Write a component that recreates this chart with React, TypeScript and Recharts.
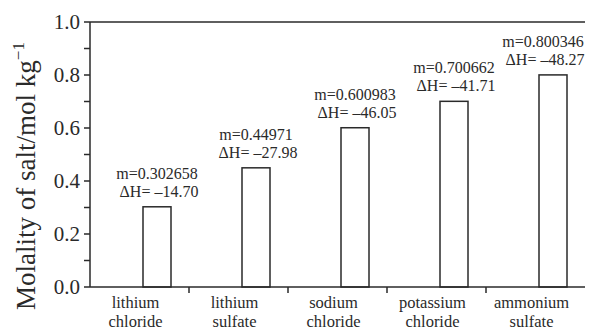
import { Bar, BarChart, ReferenceLine, XAxis, YAxis } from "recharts";

const saltFirst = ["lithium", "lithium", "sodium", "potassium", "ammonium"];
const saltSecond = ["chloride", "sulfate", "chloride", "chloride", "sulfate"];
const molality = [0.302658, 0.44971, 0.600983, 0.700662, 0.800346];
const deltaH = [-14.7, -27.98, -46.05, -41.71, -48.27];
const yTicks = [0, 0.1, 0.2, 0.3, 0.4, 0.5, 0.6, 0.7, 0.8, 0.9, 1.0];

const W = 589;
const H = 333;
const LEFT = 90;
const RIGHT = 4;
const BAND = (W - LEFT - RIGHT) / saltFirst.length;
const BAR_SHIFT = 17;
const INK = "#2a2a2a";
const FONT = "Liberation Serif";

const data = saltFirst.map((s, i) => ({
  name: `${s} ${saltSecond[i]}`,
  m: molality[i],
  dh: deltaH[i],
}));

function XTick({ x, y, payload }: any) {
  const i = payload.index;
  return (
    <g>
      {i < saltFirst.length - 1 && (
        <line
          x1={x + BAND / 2}
          x2={x + BAND / 2}
          y1={y - 8}
          y2={y - 2}
          stroke={INK}
          strokeWidth={1.5}
        />
      )}
      <text y={y + 13} textAnchor="middle" fontSize={16.5} fill={INK} style={{ fontFamily: FONT }}>
        <tspan x={x - 4}>{saltFirst[i]}</tspan>
        <tspan x={x - 4} dy={19}>
          {saltSecond[i]}
        </tspan>
      </text>
    </g>
  );
}

function YTick({ x, y, payload }: any) {
  const v = Math.round(payload.value * 10);
  if (v % 2 !== 0) return null;
  return (
    <text x={x - 2} y={y + 7} textAnchor="end" fontSize={21} fill={INK} style={{ fontFamily: FONT }}>
      {payload.value.toFixed(1)}
    </text>
  );
}

function SaltBar(props: any) {
  const { x, y, width, height, payload } = props;
  const bx = x + BAR_SHIFT;
  // keep the two annotation lines inside the frame
  const cx = Math.min(bx + width / 2, W - RIGHT - 42);
  return (
    <g>
      <rect x={bx} y={y} width={width} height={height} fill="#fff" stroke={INK} strokeWidth={1.5} />
      <text x={cx} y={y - 28} textAnchor="middle" fontSize={16} fill={INK} style={{ fontFamily: FONT }}>
        m={payload.m}
      </text>
      <text x={cx + 2} y={y - 10} textAnchor="middle" fontSize={16} fill={INK} style={{ fontFamily: FONT }}>
        ΔH= –{Math.abs(payload.dh).toFixed(2)}
      </text>
    </g>
  );
}

export default function App() {
  return (
    <div style={{ position: "absolute", left: 0, top: 0, background: "#fff", fontFamily: FONT }}>
      <BarChart
        width={W}
        height={H}
        data={data}
        margin={{ top: 22, right: RIGHT, left: 0, bottom: 0 }}
      >
        <XAxis
          dataKey="name"
          height={46}
          axisLine={{ stroke: INK, strokeWidth: 1.5 }}
          tickLine={false}
          tick={<XTick />}
          interval={0}
        />
        <YAxis
          width={LEFT}
          domain={[0, 1]}
          ticks={yTicks}
          interval={0}
          tickSize={6}
          axisLine={{ stroke: INK, strokeWidth: 1.5 }}
          tickLine={{ stroke: INK, strokeWidth: 1.5 }}
          tick={<YTick />}
          label={{
            content: () => (
              <text
                transform="translate(35,176) rotate(-90)"
                textAnchor="middle"
                fontSize={27}
                fill={INK}
                style={{ fontFamily: FONT }}
              >
                Molality of salt/mol kg
                <tspan dy={-11} fontSize={17}>
                  −1
                </tspan>
              </text>
            ),
          }}
        />
        <YAxis
          yAxisId="frame"
          orientation="right"
          width={0}
          domain={[0, 1]}
          tick={false}
          tickLine={false}
          axisLine={{ stroke: INK, strokeWidth: 1.5 }}
        />
        <ReferenceLine y={1} stroke={INK} strokeWidth={1.5} />
        <Bar dataKey="m" barSize={28} shape={<SaltBar />} isAnimationActive={false} />
      </BarChart>
    </div>
  );
}
